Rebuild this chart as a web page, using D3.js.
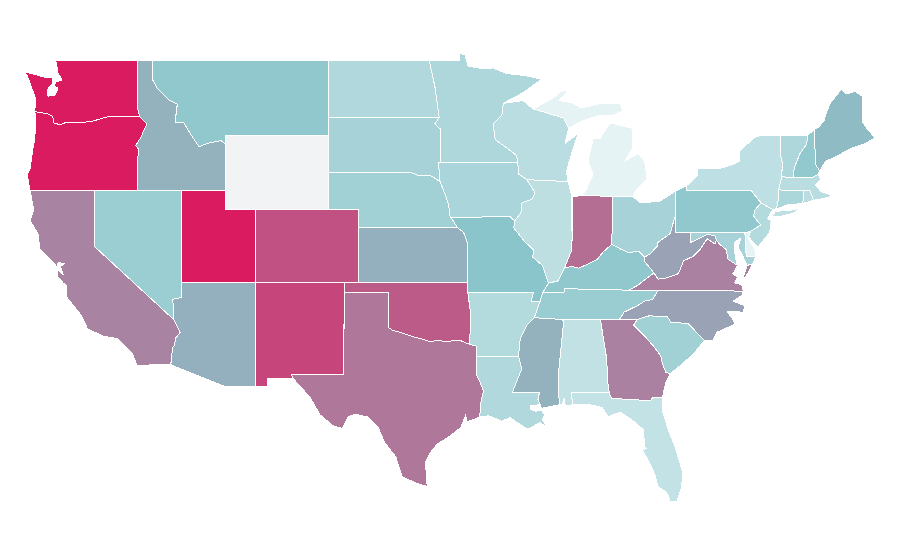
<!DOCTYPE html>
<html><head><meta charset="utf-8">
<style>html,body{margin:0;padding:0;background:#fff}svg{display:block}</style>
<script src="https://cdn.jsdelivr.net/npm/d3@7"></script>
</head><body><svg id="map" width="900" height="560"></svg>
<script>
const rev=a=>a.slice().reverse();
// Values per state (null = no data)
const stateNames=["WA","OR","ID","MT","CA","NV","UT","AZ","CO","NM","ND","SD","NE","KS","OK","TX","MN","IA","MO","AR","LA","WI","IL","IN","MI","OH","KY","TN","MS","AL","GA","SC","FL","NC","VA","WV","PA","NY","VT","NH","ME","MA","CT","RI","NJ","DE","MD","WY"];
const stateValues=[100,100,56,47,69,41,100,56.5,84,87.6,29.5,35,38,56.5,81.5,73,31,33,50,28.5,29.5,25,23,76,2,35,47,41.5,56,21,70,38,20,60,70,60,47,22.6,31,46,53,25,32.6,25,28.5,2,35,null];
const colorStops=["#e9f5f6","#8ac5cb","#da1b60"];
const colorDomain=[0,50,100];
const noDataColor="#f2f3f5";
// Shared boundaries, lon/lat
const columbia=[[-116.92,46],[-118.98,46],[-119.3,45.93],[-120.2,45.72],[-121.2,45.65],[-121.9,45.68],[-122.3,45.55],[-122.76,45.65],[-122.8,46.0],[-123.2,46.15],[-124.02,46.25]];
const snakeOR=[[-117.03,42],[-117.03,43.8],[-116.95,44.2],[-117.17,44.43],[-116.83,44.87],[-116.42,45.6],[-116.92,46]];
const mtId=[[-116.05,49],[-116.05,48],[-115.7,47.5],[-114.95,46.9],[-114.35,46.65],[-114.5,45.7],[-113.9,45.65],[-113.45,45.05],[-112.87,44.37],[-112.3,44.55],[-111.37,44.7],[-111.05,44.48]];
const coloradoR=[[-114.6,35],[-114.15,34.3],[-114.45,34.0],[-114.55,33.6],[-114.7,33.4],[-114.72,32.72]];
const redRiver=[[-100,34.56],[-99.7,34.4],[-99.2,34.3],[-98.5,34.1],[-97.8,33.95],[-97.2,33.8],[-96.7,33.85],[-96,33.8],[-95.2,33.88],[-94.48,33.64]];
const sabine=[[-94.04,33],[-94.04,32],[-93.8,31.6],[-93.55,31.1],[-93.75,30.4],[-93.8,29.68]];
const riverNeSd=[[-98.5,43],[-97.9,42.8],[-97.2,42.85],[-96.5,42.5]];
const riverNeIa=[[-96.5,42.5],[-96.1,41.7],[-95.9,41.2],[-95.85,40.7],[-95.77,40.58]];
const riverMnWi=[[-92.2,46.7],[-92.3,46.05],[-92.9,45.6],[-92.75,44.75],[-91.95,44.3],[-91.3,43.9],[-91.22,43.5]];
const miIaIl=[[-91.22,43.5],[-91.15,42.9],[-90.6,42.6],[-90.05,41.9],[-90.25,41.55],[-90.95,41.35],[-90.95,40.9],[-91.42,40.38]];
const miIlMo=[[-91.42,40.38],[-91.5,40],[-90.75,39.25],[-90.15,38.8],[-90.2,38.4],[-89.55,37.95],[-89.13,36.98]];
const miMs=[[-90.1,35.1],[-90.6,34.7],[-91.05,33.95],[-91.17,33]];
const ohioIN=[[-88.05,37.8],[-87.6,37.9],[-87.1,37.8],[-86.5,38],[-85.8,38.3],[-85.4,38.7],[-84.82,39.1]];
const ohioOH=[[-84.82,39.1],[-84.25,38.85],[-83.7,38.65],[-83,38.72],[-82.6,38.4]];
const ohioWV=[[-82.6,38.4],[-82.2,38.6],[-81.75,39],[-81.7,39.2],[-80.85,39.7],[-80.65,40.3],[-80.52,40.64]];
const vaWv=[[-81.97,37.54],[-81.68,37.2],[-81.2,37.25],[-80.3,37.5],[-79.95,38.2],[-79.3,38.45],[-78.85,38.8],[-78.35,39.4],[-77.83,39.13],[-77.72,39.32]];
const potomac=[[-77.72,39.32],[-77.5,39.1],[-77.05,38.8],[-76.95,38.3],[-76.3,37.95]];
const tnNc=[[-84.32,34.99],[-84,35.4],[-83.1,35.75],[-82.6,36],[-82.05,36.1],[-81.68,36.59]];
const scNc=[[-83.1,35],[-82.3,35.2],[-81.05,35.15],[-80.8,34.82],[-79.67,34.8],[-78.55,33.86]];
const savannah=[[-83.1,35],[-83.35,34.7],[-82.6,34.1],[-81.95,33.5],[-81.5,33],[-81.4,32.6],[-81.15,32.1],[-80.85,32.05]];
const gaFl=[[-81.4,30.72],[-82.05,30.75],[-82.2,30.57],[-84.86,30.7],[-85,31]];
const alGa=[[-85.6,34.98],[-85.18,32.87],[-85.1,31.55],[-85,31]];
const msLa=[[-89.6,30.15],[-89.85,30.65],[-89.75,31],[-91.6,31],[-90.95,32.3],[-91.17,33]];
const nhVt=[[-71.5,45],[-71.6,44.5],[-72.05,44],[-72.45,43.2],[-72.46,42.73]];
const nyVt=[[-73.35,45],[-73.4,44],[-73.25,43.55],[-73.28,42.75]];
const paNj=[[-74.7,41.36],[-75.1,40.97],[-75.2,40.65],[-74.72,40.15],[-75.42,39.8]];
const miWi=[[-90.17,46.4],[-89.1,46.15],[-88.1,45.9],[-87.77,45.35],[-88,44.55]];
// State outlines, lon/lat
const WA=[[-122.8,49],[-117.03,49],[-117.04,46.42],...columbia,[-124,47],[-124.25,47.55],[-124.55,48.2],[-124.73,48.4],[-123.35,48.1],[-122.79,48.06],[-122.86,47.74],[-123.2,47.41],[-123.13,47.09],[-122.66,47.15],[-122.45,47.52],[-122.73,47.63],[-122.59,47.84],[-122.18,47.95],[-122.45,48.33],[-122.59,48.92]];
const OR=[...columbia,[-123.95,45.5],[-124.08,44.6],[-124.15,44.3],[-124.35,43.2],[-124.55,42.9],[-124.35,42],...snakeOR];
const ID=[[-117.03,49],...mtId,[-111.05,42],...snakeOR,[-117.04,46.42]];
const MT=[...mtId,[-111.05,45],[-104.05,45],[-104.05,49]];
const CA=[[-124.35,42],[-120,42],[-120,39],...coloradoR,[-114.85,32.55],[-117.1,32.5],[-117.4,33.15],[-118.4,33.95],[-119.4,34.1],[-120.47,34.5],[-120.6,34.8],[-120.95,35.3],[-121.85,36.2],[-121.85,36.85],[-122.05,36.95],[-122.45,37.3],[-122.5,37.75],[-122.1,37.45],[-122.3,37.9],[-122.0,38.05],[-122.45,38.1],[-122.5,37.85],[-123,38.3],[-123.7,38.85],[-123.8,39.65],[-124.35,40.4],[-124.1,41]];
const NV=[[-120,42],[-114.05,42],[-114.05,36.2],[-114.65,36.1],[-114.6,35],[-120,39]];
const UT=[[-114.05,42],[-111.05,42],[-111.05,41],[-109.05,41],[-109.05,37],[-114.05,37]];
const AZ=[[-114.05,37],[-109.05,37],[-109.05,31.33],[-111.07,31.33],[-114.85,32.55],...rev(coloradoR),[-114.65,36.1],[-114.05,36.2]];
const CO=[[-109.05,41],[-102.05,41],[-102.05,37],[-109.05,37]];
const NM=[[-109.05,37],[-103,37],[-103.05,32],[-106.6,32],[-106.5,31.8],[-108.2,31.78],[-108.2,31.33],[-109.05,31.33]];
const WY=[[-111.05,45],[-104.05,45],[-104.05,41],[-111.05,41]];
const ND=[[-104.05,49],[-97.23,49],[-96.85,47.6],[-96.56,45.94],[-104.05,45.94]];
const SD=[[-104.05,45.94],[-96.56,45.94],[-96.85,45.6],[-96.45,45.3],[-96.45,43.5],[-96.6,43.5],[-96.5,42.5],...rev(riverNeSd),[-104.05,43]];
const NE=[[-104.05,43],...riverNeSd,...riverNeIa,[-95.3,40],[-102.05,40],[-102.05,41],[-104.05,41]];
const KS=[[-102.05,40],[-95.3,40],[-94.9,39.75],[-94.6,39.1],[-94.62,37],[-102.05,37]];
const OK=[[-103,37],[-94.62,37],[-94.62,36.5],[-94.43,35.4],...rev(redRiver),[-100,36.5],[-103,36.5]];
const TX=[[-103,36.5],[-100,36.5],...redRiver,[-94.04,33.55],...sabine,[-94.7,29.4],[-94.75,29.8],[-95.1,29.1],[-95.9,28.6],[-96.7,28.2],[-97.2,27.7],[-97.5,27.18],[-97.4,26.4],[-97.38,25.9],[-98.06,26.05],[-99.08,26.43],[-99.5,27.5],[-100.25,28.27],[-100.72,29.13],[-101.4,29.68],[-102.28,29.84],[-102.75,29.68],[-103.15,29.06],[-103.76,29.2],[-104.65,29.8],[-105.33,30.75],[-106.5,31.8],[-106.6,32],[-103.05,32]];
const MN=[[-97.23,49],[-95.15,49],[-95.15,49.38],[-94.8,49.3],[-94.6,48.7],[-93.5,48.55],[-92.9,48.6],[-92,48.3],[-90.8,48.2],[-89.6,48],[-90.8,47.3],...riverMnWi,[-96.45,43.5],[-96.45,45.3],[-96.85,45.6],[-96.56,45.94],[-96.85,47.6]];
const IA=[[-96.6,43.5],[-91.22,43.5],...miIaIl,[-91.73,40.6],[-95.77,40.58],...rev(riverNeIa)];
const MO=[[-95.77,40.58],[-91.73,40.6],...miIlMo,[-89.5,36.5],[-89.7,36],[-90.3,36],[-90.15,36.5],[-94.62,36.5],[-94.62,37],[-94.6,39.1],[-94.9,39.75],[-95.3,40]];
const AR=[[-94.62,36.5],[-90.15,36.5],[-90.3,36],[-89.7,36],...miMs,[-94.04,33],[-94.04,33.55],[-94.48,33.64],[-94.43,35.4]];
const LA=[...rev(sabine),...rev(msLa),[-89.75,30.35],[-90.35,30.3],[-90.35,30.1],[-90,30],[-89.6,30.03],[-89.4,29.8],[-89.55,29.55],[-89.17,29.03],[-89.7,29.4],[-90.3,29.1],[-90.6,29.05],[-91.3,29.4],[-91.75,29.65],[-92.3,29.45],[-93.2,29.75]];
const WI=[[-92.2,46.7],[-90.87,46.85],...miWi,[-87.1,45.1],[-87.44,44.3],[-87.77,43.45],[-87.9,43],[-87.8,42.5],[-90.6,42.6],[-91.15,42.9],[-91.22,43.5],...rev(riverMnWi).slice(1)];
const IL=[[-90.6,42.6],[-87.8,42.5],[-87.55,41.75],[-87.53,39.35],[-87.6,38.7],[-88.05,37.8],[-88.5,37.1],[-89.13,36.98],...rev(miIlMo),[-90.95,40.9],[-90.95,41.35],[-90.25,41.55],[-90.05,41.9]];
const IN=[[-87.53,41.7],[-87.2,41.72],[-86.8,41.76],[-84.8,41.7],[-84.82,39.1],...rev(ohioIN),[-87.6,38.7],[-87.53,39.35]];
const MIu=[...miWi.slice(0,4),[-87,45.7],[-86.3,45.9],[-85.6,46.05],[-84.7,46.05],[-84.1,46.3],[-84.25,46.7],[-85.6,46.7],[-86.9,46.45],[-87.6,46.75],[-88.4,46.85],[-87.8,47.4],[-88.3,47.35],[-88.8,47]];
const MIl=[[-86.8,41.76],[-84.8,41.7],[-83.4,41.7],[-83.15,42.05],[-82.5,42.6],[-82.45,42.8],[-82.6,43.6],[-83.05,44],[-83.95,43.6],[-83.4,44.3],[-83.4,45.35],[-84.95,45.65],[-85.5,45],[-85.6,44.8],[-86.1,44.8],[-86.45,43.6],[-86.1,42.9],[-86.5,42.2]];
const OH=[[-84.82,39.1],[-84.8,41.7],[-83.4,41.7],[-82.9,41.35],[-81.55,41.45],[-80.52,41.98],[-80.52,40.64],...rev(ohioWV),...rev(ohioOH).slice(1)];
const KY=[[-89.13,36.98],[-89.5,36.5],[-88.05,36.5],[-88.05,36.68],[-83.68,36.6],[-83.1,36.85],[-81.97,37.54],[-82.6,38.17],...rev(ohioOH),...rev(ohioIN).slice(1),[-88.5,37.1]];
const TN=[[-90.1,35.1],[-89.7,36],[-89.5,36.5],[-88.05,36.5],[-88.05,36.68],[-83.68,36.6],[-81.68,36.59],...rev(tnNc),[-88.2,35]];
const MS=[[-90.1,35.1],[-88.2,35],[-88.1,34.9],[-88.47,31.9],[-88.4,30.35],...msLa,...rev(miMs).slice(1)];
const AL=[[-88.2,35],...alGa,[-87.6,31],[-87.47,30.35],[-88,30.3],[-88.05,30.7],[-88.2,30.35],[-88.4,30.35],[-88.47,31.9],[-88.1,34.9]];
const GA=[[-85.6,34.98],[-84.32,34.99],[-83.1,35],...savannah.slice(1),[-81.15,31.6],...gaFl,...rev(alGa).slice(1)];
const SC=[...scNc,[-79.2,33.2],[-80,32.6],...rev(savannah)];
const FL=[[-87.6,31],[-85,31],...rev(gaFl).slice(1),[-81.4,30.05],[-81,29],[-80.5,28],[-80,26.6],[-80.1,25.8],[-80.4,25.1],[-80.88,25.1],[-81.08,25.55],[-81.7,25.9],[-81.9,26.53],[-82.37,27.35],[-82.78,27.9],[-82.5,27.95],[-82.58,28.05],[-82.71,29],[-83.25,29.4],[-84.27,29.95],[-85.08,29.7],[-85.5,30.2],[-86.3,30.35],[-87.47,30.35]];
const NC=[...tnNc,[-75.9,36.55],[-76,36.3],[-76.6,36],[-75.8,35.75],[-75.9,35.4],[-77,35.45],[-76.6,35],[-76.45,34.75],[-77,34.55],[-77.7,34.3],[-77.95,33.87],...rev(scNc).slice(0,-1),[-83.1,35]];
const VA=[[-83.68,36.6],[-81.68,36.59],[-75.9,36.55],[-76,36.9],[-76.5,37],[-76.3,37.3],[-76.6,37.5],...rev(potomac),...rev(vaWv),[-83.1,36.85]];
const VAe=[[-75.95,37.15],[-75.65,37.95],[-75.25,38.03],[-75.6,37.5]];
const WV=[[-80.52,40.64],[-80.52,39.72],[-79.48,39.72],[-79.48,39.2],[-78.4,39.62],[-77.83,39.6],...rev(vaWv),[-82.6,38.17],...ohioWV];
const MD=[[-79.48,39.72],[-75.79,39.72],[-75.7,38.46],[-75.05,38.45],[-75.25,38.03],[-75.65,37.95],[-75.95,38.5],[-76.25,38.95],[-76.05,39.45],[-76.5,39.2],[-76.45,38.4],...rev(potomac),[-77.83,39.6],[-78.4,39.62],[-79.48,39.2]];
const DE=[[-75.79,39.72],[-75.42,39.8],[-75.55,39.45],[-75.1,38.8],[-75.05,38.45],[-75.7,38.46]];
const PA=[[-80.52,41.98],[-79.76,42.27],[-79.76,42],[-75.35,42],...paNj,[-75.79,39.72],[-80.52,39.72]];
const NJ=[...paNj,[-75.55,39.5],[-74.9,38.95],[-74.1,39.75],[-74,40.4],[-74.25,40.5],[-73.9,41]];
const NY=[[-79.76,42.27],[-79,42.85],[-79,43.2],[-77.5,43.2],[-76.5,43.45],[-76.15,43.6],[-76.15,44.15],[-75.15,44.85],[-74.7,45],...nyVt,[-73.5,42.05],[-73.55,41.3],[-73.7,41],[-73.9,41],[-74.7,41.36],[-75.35,42],[-79.76,42]];
const NYi=[[-74,40.6],[-73.7,40.9],[-72.6,40.97],[-72,41.1],[-72.5,40.8],[-73.5,40.6]];
const VT=[...nyVt.slice(0,1),...nhVt,...rev(nyVt)];
const NH=[...nhVt.slice(0,1),[-71.08,45.3],[-70.98,43.4],[-70.7,43.07],[-70.85,42.87],[-71.3,42.7],...rev(nhVt).slice(0,-1)];
const ME=[[-71.08,45.3],[-70.8,45.4],[-70.4,45.8],[-70.25,46.2],[-70,46.7],[-69.23,47.46],[-68.9,47.2],[-68.3,47.35],[-67.8,47.07],[-67.8,45.7],[-67.45,45.3],[-66.95,44.85],[-67.6,44.55],[-68.5,44.3],[-69,44.1],[-69.8,43.75],[-70.3,43.6],[-70.7,43.07],[-70.98,43.4]];
const MA=[[-73.5,42.05],[-73.28,42.75],[-72.46,42.73],[-71.3,42.7],[-70.85,42.87],[-70.6,42.65],[-71,42.3],[-70.6,41.95],[-70.05,41.8],[-70.2,42.05],[-69.95,41.7],[-70.65,41.55],[-71.13,41.5],[-71.38,42.02],[-71.8,42.02]];
const RI=[[-71.8,42.02],[-71.38,42.02],[-71.13,41.5],[-71.85,41.32]];
const CT=[[-73.5,42.05],[-71.8,42.02],[-71.85,41.32],[-72.9,41.25],[-73.7,41],[-73.55,41.3]];
const rings=[[WA],[OR],[ID],[MT],[CA],[NV],[UT],[AZ],[CO],[NM],[ND],[SD],[NE],[KS],[OK],[TX],[MN],[IA],[MO],[AR],[LA],[WI],[IL],[IN],[MIu,MIl],[OH],[KY],[TN],[MS],[AL],[GA],[SC],[FL],[NC],[VA,VAe],[WV],[PA],[NY,NYi],[VT],[NH],[ME],[MA],[CT],[RI],[NJ],[DE],[MD],[WY]];

const xS=d3.scaleLinear().domain([-124.73,-66.95]).range([24.5,875]);
const yS=d3.scaleLinear().domain([49,41,25.1]).range([60.5,209.5,501]);
const proj=d3.geoTransform({point(x,y){this.stream.point(xS(x),yS(y));}});
const path=d3.geoPath(proj);
const color=d3.scaleLinear().domain(colorDomain).range(colorStops).interpolate(d3.interpolateRgb);
const feats=stateNames.map((n,i)=>({type:"Feature",id:n,properties:{value:stateValues[i]},
  geometry:{type:"MultiPolygon",coordinates:rings[i].map(r=>[[...r,r[0]]])}}));
d3.select("#map").selectAll("path").data(feats).join("path")
  .attr("d",path)
  .attr("id",d=>d.id)
  .attr("fill",d=>d.properties.value==null?noDataColor:color(d.properties.value))
  .attr("stroke","#fff").attr("stroke-width",1).attr("stroke-linejoin","round")
  .attr("shape-rendering","crispEdges");
</script></body></html>
